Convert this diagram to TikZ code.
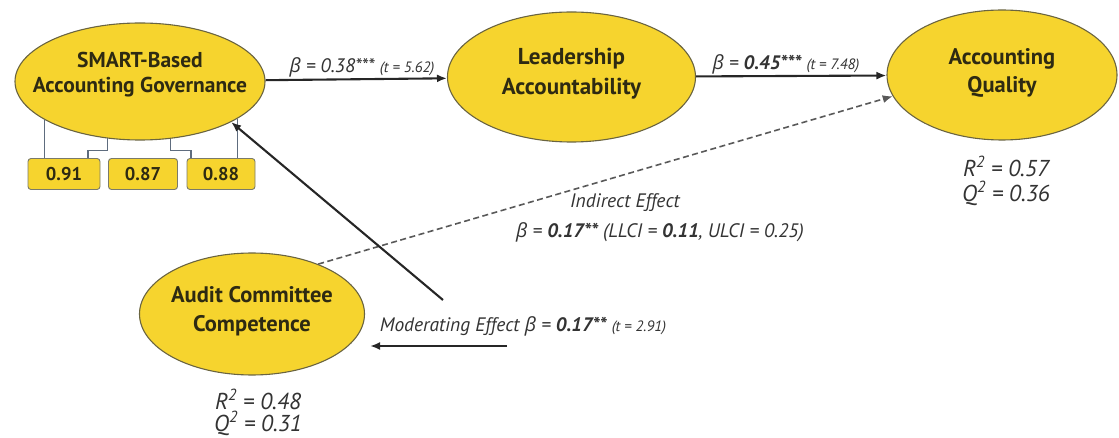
\documentclass[tikz,border=0pt]{standalone}
\usepackage{fontspec}
\setmainfont{PT Sans}
\newfontfamily\greekfont{Open Sans}
\usetikzlibrary{shapes.geometric,arrows.meta}

\definecolor{latentfill}{HTML}{F6D42E}
\definecolor{latentline}{HTML}{6A6440}
\definecolor{nodetext}{HTML}{2E2A12}
\definecolor{labeltext}{HTML}{333333}
\definecolor{loadline}{HTML}{5E6C7E}
\definecolor{boxline}{HTML}{7A7A6A}

% Greek beta is taken from Open Sans (PT Sans has no Greek)
\newcommand{\bt}{{\greekfont β}}
% smaller t-statistic in brackets
\newcommand{\tval}[1]{{\fontsize{15}{18}\selectfont(#1)}}
% centred lines raised inside their ellipse; zero width so the
% ellipse keeps its own minimum size
\newcommand{\lifted}[2]{\makebox[0pt]{\raisebox{#1}[\height][\depth]{%
  \begin{tabular}{@{}c@{}}#2\end{tabular}}}}

\tikzset{
  latent/.style={ellipse, draw=latentline, line width=1.1pt, fill=latentfill,
    inner sep=0pt, text=nodetext},
  valbox/.style={draw=boxline, line width=0.9pt, fill=latentfill,
    rounded corners=3pt, minimum width=70pt, minimum height=31pt,
    inner sep=0pt, text=nodetext, font=\fontsize{18.5}{20}\selectfont\bfseries},
  loadlink/.style={draw=loadline, line width=1.2pt},
  effarrow/.style={draw=black!85, line width=2.1pt,
    -{Latex[length=10pt,width=8pt]}},
  indarrow/.style={draw=black!65, line width=1.6pt,
    dash pattern=on 6pt off 3.5pt, -{Latex[length=10pt,width=8pt]}},
  lbl/.style={text=labeltext, font=\fontsize{19.5}{22}\selectfont\itshape,
    inner sep=0pt},
  stat/.style={text=labeltext, align=center, inner sep=0pt},
}

\begin{document}
\begin{tikzpicture}[x=1pt,y=-1pt]
\useasboundingbox (0,0) rectangle (1119,438);

% latent constructs
\node[latent, minimum width=250pt, minimum height=117pt,
  font=\fontsize{21.5}{25}\selectfont\bfseries] (smart) at (140,81.5)
  {\lifted{6pt}{SMART-Based\\Accounting Governance}};
\node[latent, minimum width=248pt, minimum height=130pt,
  font=\fontsize{23}{30}\selectfont\bfseries] (lead) at (571.5,77)
  {\lifted{3pt}{Leadership\\Accountability}};
\node[latent, minimum width=230pt, minimum height=130pt,
  font=\fontsize{22.5}{28}\selectfont\bfseries] (aq) at (1002,75)
  {\lifted{2pt}{Accounting\\Quality}};
\node[latent, minimum width=225pt, minimum height=122pt,
  font=\fontsize{22.5}{29}\selectfont\bfseries] (audit) at (252,314)
  {\lifted{3pt}{Audit Committee\\Competence}};

% indicator loadings
\node[valbox, minimum width=72pt] (b1) at (64,174) {0.91};
\node[valbox, minimum width=69pt] (b2) at (143,174) {0.87};
\node[valbox, minimum width=68pt] (b3) at (221,174) {0.88};

\draw[loadlink] (smart.202.6) -- (smart.202.6 |- b1.north);
\draw[loadlink] (smart.240) -- ++(0,12) -| ([xshift=24pt]b1.north);
\draw[loadlink] (smart.298) -- ++(0,12) -| ([xshift=-30pt]b3.north);
\draw[loadlink] (smart.339.7) -- (smart.339.7 |- b3.north);

% structural paths
\draw[effarrow] (smart) -- (lead);
\draw[effarrow] (lead) -- (aq);
\draw[indarrow] (audit.37) -- (aq.191);

% moderation
\coordinate (modtail) at (443,300);
\coordinate (modstart) at (507,346);
\draw[effarrow] (modtail) -- (smart.336);
\draw[effarrow, shorten >=5pt] (modstart) -- (modstart -| audit.east);

% path labels
\node[lbl] (l1) at (362,67) {\bt{} = 0.38*** \tval{t = 5.62}};
\node[lbl] (l2) at (786,64) {\bt{} = \textbf{0.45***} \tval{t = 7.48}};
\node[lbl] (ind1) at (625,203) {Indirect Effect};
\node[lbl] (ind2) at (660,232)
  {\bt{} = \textbf{0.17**} (LLCI = \textbf{0.11}, ULCI = 0.25)};
\node[lbl] (mod) at (523,326)
  {Moderating Effect \bt{} = \textbf{0.17**} \tval{t = 2.91}};

% explained variance and predictive relevance
\node[stat, font=\fontsize{23}{25}\selectfont\itshape] (aqstat) at (1006,180.5)
  {R\textsuperscript{2} = 0.57\\Q\textsuperscript{2} = 0.36};
\node[stat, font=\fontsize{23}{22}\selectfont\itshape] (auditstat) at (258,412)
  {R\textsuperscript{2} = 0.48\\Q\textsuperscript{2} = 0.31};
\end{tikzpicture}
\end{document}
